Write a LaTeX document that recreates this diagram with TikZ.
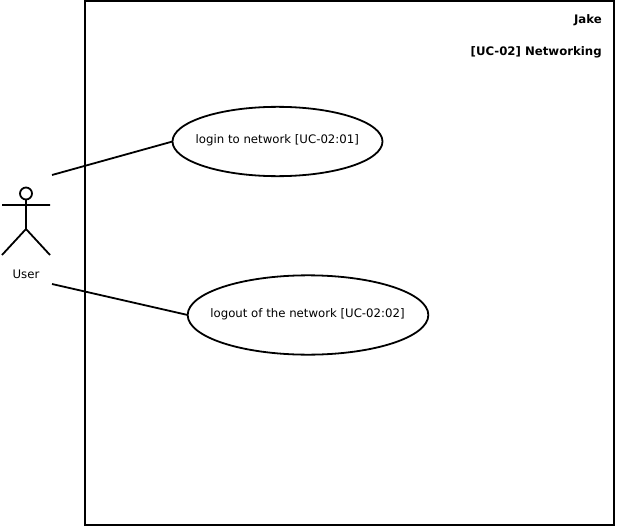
\documentclass[tikz,border=0pt]{standalone}
\usepackage{fontspec}
\setmainfont{DejaVu Sans}
\usetikzlibrary{shapes.geometric}
\tikzset{
  x=0.75pt,y=-0.75pt,
  line/.style={draw=black,line width=1.35pt},
  usecase/.style={ellipse,draw=black,line width=1.35pt,inner sep=0pt,outer sep=0pt},
  lbl/.style={inner sep=0pt,font=\fontsize{8.8}{11}\selectfont},
  title/.style={inner sep=0pt,anchor=east,font=\fontsize{8.8}{11}\selectfont\bfseries}
}
\begin{document}
\begin{tikzpicture}
\useasboundingbox (0,0) rectangle (617,528);
\fill[white] (0,0) rectangle (617,528);
\draw[line] (85,1) rectangle (614,525);
\node[title] (jake) at (602,20) {Jake};
\node[title] (sys) at (602,52) {[UC-02] Networking};
\node[usecase,minimum width=157.5pt,minimum height=52pt] (uc1) at (277.5,141.5) {};
\node[lbl] (uc1t) at (277.3,140.7) {login to network [UC-02:01]};
\node[usecase,minimum width=180.5pt,minimum height=59.5pt] (uc2) at (308,315) {};
\node[lbl] (uc2t) at (307.5,314.7) {logout of the network [UC-02:02]};
\node[lbl] (user) at (26,274) {User};
\coordinate (a1) at (52,175);
\coordinate (a2) at (52,284);
\draw[line] (a1) -- (uc1.west);
\draw[line] (a2) -- (uc2.west);
\draw[line] (26,193.5) circle (6);
\draw[line] (26,199.5) -- (26,229) (2,205) -- (50,205) (2,255) -- (26,229) -- (50,255);
\end{tikzpicture}
\end{document}
